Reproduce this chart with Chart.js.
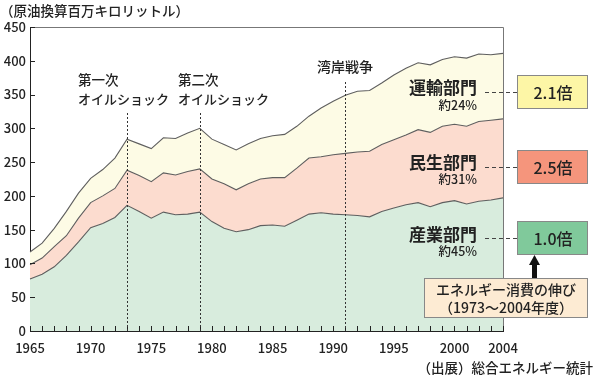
<!DOCTYPE html>
<html><head><meta charset="utf-8">
<script src="https://cdn.jsdelivr.net/npm/chart.js@4/dist/chart.umd.min.js"></script>
<style>html,body{margin:0;padding:0;background:#fff}#wrap{width:600px;height:379px;position:relative}</style>
</head><body><div id="wrap"><canvas id="c" width="600" height="379"></canvas></div>
<script>
const years = [1965,1966,1967,1968,1969,1970,1971,1972,1973,1974,1975,1976,1977,1978,1979,1980,1981,1982,1983,1984,1985,1986,1987,1988,1989,1990,1991,1992,1993,1994,1995,1996,1997,1998,1999,2000,2001,2002,2003,2004];
const industry    = [77,84,95,112,132,153,159,168,186,177,167,176,172,173,176,162,152,147,150,156,157,155,164,173,175,173,172,171,169,177,182,187,190,184,190,193,188,192,194,197];
const residential = [21,24,30,29,35,37,41,43,52,53,54,58,59,63,64,63,66,62,68,69,70,72,77,83,83,88,91,94,97,99,101,103,108,110,113,113,115,118,118,117];
const transport   = [19,22,27,36,37,36,39,45,46,47,49,52,54,57,60,59,58,59,59,60,62,64,62,62,72,79,86,90,90,91,96,99,99,100,99,100,101,100,97,97];
const xTickYears = [1965,1970,1975,1980,1985,1990,1995,2000,2004];
const yTicks = [0,50,100,150,200,250,300,350,400,450];
const sectorNames = ['産業部門','民生部門','運輸部門'];
const sectorShares = ['約45%','約31%','約24%'];
const growth = ['1.0倍','2.5倍','2.1倍'];
const events = [
  {year:1973, lines:['第一次','オイルショック']},
  {year:1979, lines:['第二次','オイルショック']},
  {year:1991, lines:['湾岸戦争']}
];
const unitLabel = '（原油換算百万キロリットル）';
const noteLines = ['エネルギー消費の伸び','（1973〜2004年度）'];
const sourceLabel = '（出展）総合エネルギー統計';

const FONT = '"Noto Sans CJK JP","Noto Sans",sans-serif';
const TXT = '#222';

const deco = {
  id:'deco',
  afterDraw(chart){
    const {ctx, chartArea:a, scales:{x,y}} = chart;
    ctx.save();
    // frame
    ctx.strokeStyle='#777'; ctx.lineWidth=1;
    ctx.beginPath();
    ctx.moveTo(a.left, a.top+0.5); ctx.lineTo(a.right+0.5, a.top+0.5); ctx.lineTo(a.right+0.5, a.bottom);
    ctx.stroke();
    // inward ticks
    ctx.strokeStyle='#222';
    ctx.beginPath();
    years.forEach((yr,i)=>{const px=Math.round(x.getPixelForValue(i))+0.5; ctx.moveTo(px,a.bottom); ctx.lineTo(px,a.bottom-5);});
    yTicks.forEach(v=>{const py=Math.round(y.getPixelForValue(v))+0.5; ctx.moveTo(a.left,py); ctx.lineTo(a.left+5,py);});
    ctx.stroke();
    // event lines + labels
    ctx.setLineDash([2,2]); ctx.strokeStyle='#333';
    const evTop = {1973:113,1979:113,1991:82};
    events.forEach(ev=>{
      const px=Math.round(x.getPixelForValue(years.indexOf(ev.year)))+0.5;
      ctx.beginPath(); ctx.moveTo(px,evTop[ev.year]); ctx.lineTo(px,a.bottom); ctx.stroke();
    });
    ctx.setLineDash([]);
    ctx.fillStyle=TXT; ctx.textBaseline='middle'; ctx.textAlign='left';
    ctx.font='500 13.5px '+FONT;
    ctx.fillText(events[0].lines[0],78,80); ctx.fillText(events[1].lines[0],178,80);
    ctx.font='500 13px '+FONT;
    ctx.fillText(events[0].lines[1],78,99); ctx.fillText(events[1].lines[1],178,99);
    ctx.font='500 14px '+FONT;
    ctx.fillText(events[2].lines[0],317,67);
    // unit label
    ctx.font='500 13.5px '+FONT;
    ctx.fillText(unitLabel,0,11);
    // sector labels
    const labY=[234.5,162.5,88], shY=[251,179,105.5], dashY=[238.5,167.5,92.5];
    const boxY=[221,150,75], boxC=['#80c99b','#f5957c','#fdf6a6'];
    for(let k=0;k<3;k++){
      ctx.textAlign='right'; ctx.fillStyle=TXT;
      ctx.font='bold 17px '+FONT; ctx.fillText(sectorNames[k],477,labY[k]);
      ctx.font='500 12.5px '+FONT; ctx.fillText(sectorShares[k],477,shY[k]);
      ctx.setLineDash([4,3]); ctx.strokeStyle='#444';
      ctx.beginPath(); ctx.moveTo(485,dashY[k]); ctx.lineTo(517,dashY[k]); ctx.stroke();
      ctx.setLineDash([]);
      ctx.fillStyle=boxC[k]; ctx.fillRect(517,boxY[k],71,34);
      ctx.strokeStyle='#888'; ctx.strokeRect(517.5,boxY[k]+0.5,70,33);
      ctx.fillStyle=TXT; ctx.textAlign='center'; ctx.font='500 16px '+FONT;
      ctx.fillText(growth[k],553,boxY[k]+17.5);
    }
    // arrow
    ctx.fillStyle='#111';
    ctx.fillRect(532,264,5,15);
    ctx.beginPath(); ctx.moveTo(534.5,255); ctx.lineTo(529,265); ctx.lineTo(540,265); ctx.closePath(); ctx.fill();
    // note box
    ctx.fillStyle='#fdebd3'; ctx.fillRect(424,278,164,40);
    ctx.strokeStyle='#888'; ctx.strokeRect(424.5,278.5,163,39);
    ctx.fillStyle=TXT; ctx.textAlign='center'; ctx.font='500 14px '+FONT;
    ctx.fillText(noteLines[0],506,290); ctx.fillText(noteLines[1],506,308);
    // source
    ctx.textAlign='right'; ctx.font='500 13.5px '+FONT;
    ctx.fillText(sourceLabel,593,368);
    ctx.restore();
  }
};

const lineStyle = {borderColor:'#5f5f5f', borderWidth:1.1, pointRadius:0, tension:0};
new Chart(document.getElementById('c'), {
  type:'line',
  data:{
    labels: years,
    datasets:[
      Object.assign({label:sectorNames[0], data:industry, backgroundColor:'#d8ecdd', fill:'origin'}, lineStyle),
      Object.assign({label:sectorNames[1], data:residential, backgroundColor:'#fcdccf', fill:'-1'}, lineStyle),
      Object.assign({label:sectorNames[2], data:transport, backgroundColor:'#fdfbe5', fill:'-1'}, lineStyle)
    ]
  },
  options:{
    responsive:false, animation:false,
    layout:{padding:{left:0, top:27, right:97, bottom:0}},
    plugins:{legend:{display:false}, tooltip:{enabled:false}},
    scales:{
      x:{
        type:'category', offset:false,
        grid:{display:false, drawTicks:false},
        border:{display:true, color:'#222', width:1},
        ticks:{autoSkip:false, maxRotation:0, minRotation:0, padding:9, color:TXT,
          font:{family:FONT, size:13, weight:'500'},
          callback:(v,i)=> xTickYears.includes(years[i]) ? String(years[i]) : ''},
        afterFit:(s)=>{s.height=48;}
      },
      y:{
        stacked:true, min:0, max:450,
        grid:{display:false, drawTicks:false},
        border:{display:true, color:'#222', width:1},
        afterBuildTicks:(s)=>{s.ticks=yTicks.map(v=>({value:v}));},
        ticks:{padding:4, color:TXT, font:{family:FONT, size:13, weight:'500'}},
        afterFit:(s)=>{s.width=30;}
      }
    }
  },
  plugins:[deco]
});
</script></body></html>
